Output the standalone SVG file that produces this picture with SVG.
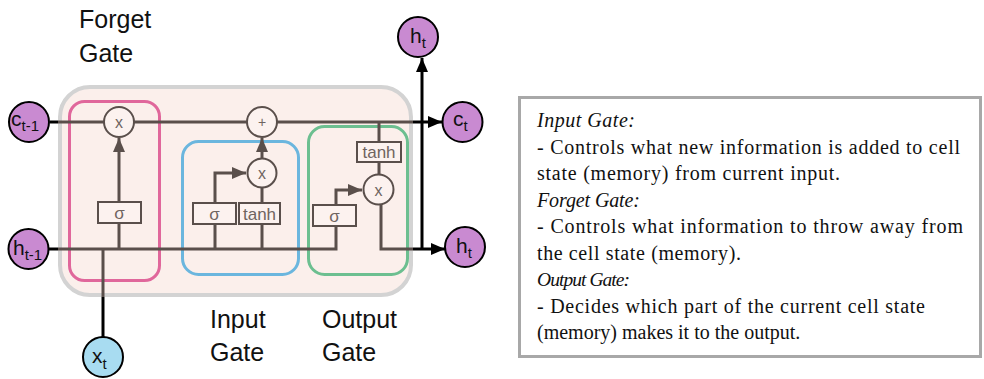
<svg xmlns="http://www.w3.org/2000/svg" width="984" height="379" viewBox="0 0 984 379">
<defs>
<style>
.lbl{font-family:"Liberation Sans",Arial,sans-serif;font-size:25px;fill:#111}
.br{stroke:#5a4f4b;stroke-width:3;fill:none}
.bk{stroke:#000;stroke-width:3;fill:none}
.op{fill:#fcf2ef;stroke:#5a4f4b;stroke-width:2}
.opt{font-family:"Liberation Sans",Arial,sans-serif;font-size:16px;fill:#6f6460;text-anchor:middle}
.bx{fill:#fcf2ef;stroke:#5a4f4b;stroke-width:2}
.bxt{font-family:"Liberation Sans",Arial,sans-serif;font-size:17px;fill:#6f6460;text-anchor:middle}
.pc{fill:#c98ad1;stroke:#000;stroke-width:2}
.bc{fill:#a8dcf1;stroke:#000;stroke-width:2}
.ct{font-family:"Liberation Sans",Arial,sans-serif;font-size:21px;fill:#111}
.sub{font-size:15px}
.tx{font-family:"Liberation Serif","Times New Roman","DejaVu Serif",serif;font-size:20px;fill:#111}
.it{font-style:italic}
</style>
<marker id="ab" markerUnits="userSpaceOnUse" markerWidth="14" markerHeight="12" refX="14" refY="6" orient="auto"><path d="M0,0 L14,6 L0,12 z" fill="#5a4f4b"/></marker>
<marker id="ak" markerUnits="userSpaceOnUse" markerWidth="14" markerHeight="12" refX="14" refY="6" orient="auto"><path d="M0,0 L14,6 L0,12 z" fill="#000"/></marker>
</defs>
<rect width="984" height="379" fill="#fff"/>

<g id="cell">
<rect x="60" y="87" width="351" height="208" rx="30" fill="#fbefeb" stroke="#d3d3d3" stroke-width="4"/>
</g>
<g id="forget-gate-box"><rect x="69.5" y="101.5" width="90" height="179" rx="15" fill="none" stroke="#e0679b" stroke-width="3"/></g>
<g id="input-gate-box"><rect x="182.5" y="141.5" width="116" height="133" rx="16" fill="none" stroke="#6bb6de" stroke-width="3"/></g>
<g id="output-gate-box"><rect x="308.5" y="126.5" width="99" height="148" rx="16" fill="none" stroke="#6cbf90" stroke-width="3"/></g>

<g id="connectors">
<path class="bk" d="M50,122 H58"/>
<path class="br" d="M58,122 H413"/>
<path class="bk" d="M413,122 H442" marker-end="url(#ak)"/>
<path class="bk" d="M49,249 H58"/>
<path class="br" d="M58,249 H336 V190 H362" marker-end="url(#ab)"/>
<path class="bk" d="M103,337 V297"/>
<path class="br" d="M103,297 V249"/>
<path class="br" d="M119,249 V138" marker-end="url(#ab)"/>
<path class="br" d="M215,249 V173 H246" marker-end="url(#ab)"/>
<path class="br" d="M262,249 V187"/>
<path class="br" d="M262,158 V138" marker-end="url(#ab)"/>
<path class="br" d="M379,122 V174"/>
<path class="br" d="M381,204 V249 H413"/>
<path class="bk" d="M413,249 H445" marker-end="url(#ak)"/>
<path class="bk" d="M422,249 V58" marker-end="url(#ak)"/>
</g>

<g id="forget-mult"><circle class="op" cx="119" cy="122" r="15"/><text class="opt" x="119" y="128">x</text></g>
<g id="forget-sigma"><rect class="bx" x="98" y="202" width="43" height="21"/><text class="bxt" x="119.5" y="219">σ</text></g>
<g id="plus"><circle class="op" cx="262" cy="122" r="15"/><text class="opt" x="262" y="127" style="font-size:14px">+</text></g>
<g id="input-mult"><circle class="op" cx="262" cy="173" r="14.5"/><text class="opt" x="262" y="179">x</text></g>
<g id="input-sigma"><rect class="bx" x="193" y="203" width="43" height="21"/><text class="bxt" x="214.5" y="220">σ</text></g>
<g id="input-tanh"><rect class="bx" x="239" y="203" width="41" height="21"/><text class="bxt" x="259.5" y="220">tanh</text></g>
<g id="output-tanh"><rect class="bx" x="357" y="142" width="44" height="20"/><text class="bxt" x="379" y="158">tanh</text></g>
<g id="output-mult"><circle class="op" cx="378.5" cy="189.5" r="15"/><text class="opt" x="378.5" y="195.5">x</text></g>
<g id="output-sigma"><rect class="bx" x="313" y="205" width="43" height="21"/><text class="bxt" x="334.5" y="222">σ</text></g>

<g id="c-prev"><circle class="pc" cx="29" cy="122" r="20"/><text class="ct" x="11" y="126">c<tspan class="sub" dy="5">t-1</tspan></text></g>
<g id="h-prev"><circle class="pc" cx="28.5" cy="249" r="20"/><text class="ct" x="13" y="255">h<tspan class="sub" dy="5">t-1</tspan></text></g>
<g id="x-t"><circle class="bc" cx="103" cy="357" r="20"/><text class="ct" x="92" y="363">x<tspan class="sub" dy="6">t</tspan></text></g>
<g id="h-t-top"><circle class="pc" cx="418" cy="37" r="20"/><text class="ct" x="410" y="43">h<tspan class="sub" dy="5">t</tspan></text></g>
<g id="c-t"><circle class="pc" cx="462.5" cy="122" r="20"/><text class="ct" x="453" y="126">c<tspan class="sub" dy="5">t</tspan></text></g>
<g id="h-t"><circle class="pc" cx="465" cy="247" r="20"/><text class="ct" x="456" y="253">h<tspan class="sub" dy="5">t</tspan></text></g>

<g id="labels">
<text class="lbl" x="79" y="28">Forget</text>
<text class="lbl" x="79" y="62">Gate</text>
<text class="lbl" x="210" y="328">Input</text>
<text class="lbl" x="210" y="361">Gate</text>
<text class="lbl" x="322" y="328">Output</text>
<text class="lbl" x="322" y="361">Gate</text>
</g>

<g id="legend">
<rect x="519.5" y="97.5" width="461" height="259" fill="#fff" stroke="#a8a8a8" stroke-width="3"/>
<text class="tx it" x="537" y="127" textLength="98" lengthAdjust="spacing">Input Gate:</text>
<text class="tx" x="537" y="153.5" textLength="423" lengthAdjust="spacing">- Controls what new information  is added to cell</text>
<text class="tx" x="537" y="180" textLength="303" lengthAdjust="spacing">state (memory)  from current input.</text>
<text class="tx it" x="537" y="206.5" textLength="103" lengthAdjust="spacing">Forget Gate:</text>
<text class="tx" x="537" y="233" textLength="426" lengthAdjust="spacing">- Controls what information  to throw away  from</text>
<text class="tx" x="537" y="259.5" textLength="204" lengthAdjust="spacing">the cell state (memory).</text>
<text class="tx it" x="537" y="286" style="font-size:19.5px" textLength="93" lengthAdjust="spacing">Output Gate:</text>
<text class="tx" x="537" y="312.5" textLength="388" lengthAdjust="spacing">- Decides which part of the current cell state</text>
<text class="tx" x="537" y="339">(memory) makes it to the output.</text>
</g>
</svg>
